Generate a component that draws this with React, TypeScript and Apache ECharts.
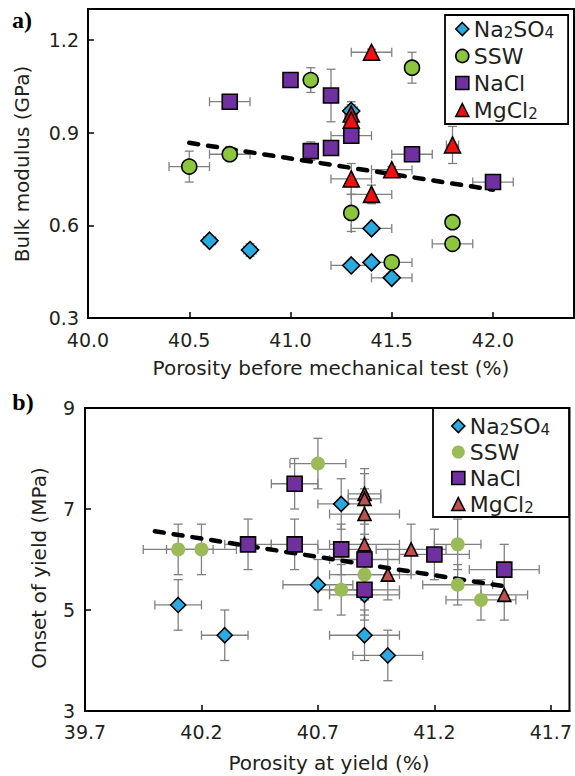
import React, { useEffect, useRef } from 'react';
import * as echarts from 'echarts';

// ---------- Panel a: bulk modulus vs porosity before mechanical test ----------
const aNa2SO4X = [40.6, 40.8, 41.3, 41.4, 41.4, 41.5, 41.3];
const aNa2SO4Y = [0.55, 0.52, 0.47, 0.48, 0.59, 0.43, 0.97];
const aNa2SO4XErr = [0.03, 0.03, 0.1, 0.02, 0.1, 0.1, 0.03];
const aNa2SO4YErr = [0.01, 0.02, 0.01, 0.01, 0.01, 0.01, 0.03];

const aSSWX = [40.5, 40.7, 41.1, 41.6, 41.3, 41.5, 41.8, 41.8];
const aSSWY = [0.79, 0.83, 1.07, 1.11, 0.64, 0.48, 0.61, 0.54];
const aSSWXErr = [0.1, 0.1, 0.03, 0.03, 0.03, 0.1, 0.03, 0.1];
const aSSWYErr = [0.05, 0.01, 0.04, 0.05, 0.06, 0.01, 0.01, 0.02];

const aNaClX = [40.7, 41.0, 41.2, 41.1, 41.2, 41.3, 41.6, 42.0];
const aNaClY = [1.0, 1.07, 1.02, 0.84, 0.85, 0.89, 0.83, 0.74];
const aNaClXErr = [0.1, 0.03, 0.02, 0.03, 0.03, 0.1, 0.1, 0.1];
const aNaClYErr = [0.01, 0.01, 0.085, 0.03, 0.01, 0.02, 0.01, 0.02];

const aMgCl2X = [41.4, 41.3, 41.3, 41.8, 41.5, 41.3, 41.4];
const aMgCl2Y = [1.16, 0.96, 0.94, 0.86, 0.78, 0.75, 0.7];
const aMgCl2XErr = [0.1, 0.03, 0.03, 0.03, 0.1, 0.1, 0.1];
const aMgCl2YErr = [0.01, 0.03, 0.03, 0.06, 0.01, 0.05, 0.03];

const aTrendX = [40.5, 42.0];
const aTrendY = [0.867, 0.715];

const aXTicks = [40.0, 40.5, 41.0, 41.5, 42.0];
const aXMax = 42.4;
const aYTicks = [0.3, 0.6, 0.9, 1.2];
const aYMax = 1.3;

// ---------- Panel b: onset of yield vs porosity at yield ----------
const bNa2SO4X = [40.1, 40.3, 40.7, 40.8, 40.9, 40.9, 41.0];
const bNa2SO4Y = [5.1, 4.5, 5.5, 7.1, 5.3, 4.5, 4.1];
const bNa2SO4XErr = [0.1, 0.1, 0.15, 0.1, 0.15, 0.15, 0.15];
const bNa2SO4YErr = [0.5, 0.5, 0.5, 0.5, 0.5, 0.5, 0.5];

const bSSWX = [40.1, 40.2, 40.7, 40.8, 40.9, 41.3, 41.3, 41.4];
const bSSWY = [6.2, 6.2, 7.9, 5.4, 5.7, 6.3, 5.5, 5.2];
const bSSWXErr = [0.15, 0.15, 0.12, 0.1, 0.15, 0.1, 0.15, 0.15];
const bSSWYErr = [0.5, 0.5, 0.5, 0.5, 0.5, 0.5, 0.4, 0.4];

const bNaClX = [40.4, 40.6, 40.6, 40.8, 40.9, 40.9, 41.2, 41.5];
const bNaClY = [6.3, 7.5, 6.3, 6.2, 6.0, 5.4, 6.1, 5.8];
const bNaClXErr = [0.1, 0.1, 0.1, 0.1, 0.15, 0.15, 0.15, 0.15];
const bNaClYErr = [0.5, 0.5, 0.5, 0.5, 0.5, 0.5, 0.5, 0.5];

const bMgCl2X = [40.9, 40.9, 40.9, 40.9, 41.0, 41.1, 41.5];
const bMgCl2Y = [7.3, 7.2, 6.9, 6.3, 5.7, 6.2, 5.3];
const bMgCl2XErr = [0.07, 0.07, 0.15, 0.15, 0.1, 0.15, 0.1];
const bMgCl2YErr = [0.5, 0.5, 0.5, 0.5, 0.5, 0.5, 0.5];

const bTrendX = [40.0, 41.5];
const bTrendY = [6.56, 5.47];

const bXTicks = [39.7, 40.2, 40.7, 41.2, 41.7];
const bXMax = 41.78;
const bYTicks = [3, 5, 7, 9];
const bYMax = 9;

// ---------- labels ----------
const speciesKeys = ['Na2SO4', 'SSW', 'NaCl', 'MgCl2'];
const speciesRich: Record<string, string> = {
  Na2SO4: '{n|Na}{s|2}{n|SO}{s|4}',
  SSW: '{n|SSW}',
  NaCl: '{n|NaCl}',
  MgCl2: '{n|MgCl}{s|2}',
};
const aXTitle = 'Porosity before mechanical test (%)';
const aYTitle = 'Bulk modulus (GPa)';
const bXTitle = 'Porosity at yield (%)';
const bYTitle = 'Onset of yield (MPa)';

const FONT = "'DejaVu Sans', Verdana, sans-serif";
const TXT = '#231f20';
const ERR = '#808080';

type Sty = { symbol: string; size: number; color: string; border: number };
const aStyles: Record<string, Sty> = {
  Na2SO4: { symbol: 'diamond', size: 17, color: '#29abe2', border: 1.6 },
  SSW: { symbol: 'circle', size: 15, color: '#8cc63f', border: 1.6 },
  NaCl: { symbol: 'rect', size: 15, color: '#7030a0', border: 1.6 },
  MgCl2: { symbol: 'triangle', size: 16, color: '#f01010', border: 1.6 },
};
const bStyles: Record<string, Sty> = {
  Na2SO4: { symbol: 'diamond', size: 15, color: '#29abe2', border: 1.6 },
  SSW: { symbol: 'circle', size: 14, color: '#9bbb59', border: 0 },
  NaCl: { symbol: 'rect', size: 15, color: '#7030a0', border: 1.6 },
  MgCl2: { symbol: 'triangle', size: 13, color: '#c0504d', border: 1.6 },
};

const aData: Record<string, number[][]> = {
  Na2SO4: [aNa2SO4X, aNa2SO4Y, aNa2SO4XErr, aNa2SO4YErr],
  SSW: [aSSWX, aSSWY, aSSWXErr, aSSWYErr],
  NaCl: [aNaClX, aNaClY, aNaClXErr, aNaClYErr],
  MgCl2: [aMgCl2X, aMgCl2Y, aMgCl2XErr, aMgCl2YErr],
};
const bData: Record<string, number[][]> = {
  Na2SO4: [bNa2SO4X, bNa2SO4Y, bNa2SO4XErr, bNa2SO4YErr],
  SSW: [bSSWX, bSSWY, bSSWXErr, bSSWYErr],
  NaCl: [bNaClX, bNaClY, bNaClXErr, bNaClYErr],
  MgCl2: [bMgCl2X, bMgCl2Y, bMgCl2XErr, bMgCl2YErr],
};

function errorBars(name: string, gi: number, d: number[][]) {
  const [xs, ys, xe, ye] = d;
  return {
    type: 'custom',
    name,
    xAxisIndex: gi,
    yAxisIndex: gi,
    silent: true,
    z: 2,
    encode: { x: 0, y: 1 },
    data: xs.map((x, i) => [x, ys[i], xe[i], ye[i]]),
    renderItem: (_p: any, api: any) => {
      const x = api.value(0);
      const y = api.value(1);
      const ex = api.value(2);
      const ey = api.value(3);
      const l = api.coord([x - ex, y]);
      const r = api.coord([x + ex, y]);
      const t = api.coord([x, y + ey]);
      const b = api.coord([x, y - ey]);
      const c = 4.5;
      const style = { stroke: ERR, lineWidth: 1.3 };
      const ln = (x1: number, y1: number, x2: number, y2: number) => ({
        type: 'line',
        shape: { x1, y1, x2, y2 },
        style,
      });
      return {
        type: 'group',
        children: [
          ln(l[0], l[1], r[0], r[1]),
          ln(l[0], l[1] - c, l[0], l[1] + c),
          ln(r[0], r[1] - c, r[0], r[1] + c),
          ln(t[0], t[1], b[0], b[1]),
          ln(t[0] - c, t[1], t[0] + c, t[1]),
          ln(b[0] - c, b[1], b[0] + c, b[1]),
        ],
      };
    },
  };
}

function scatter(name: string, gi: number, d: number[][], s: Sty) {
  const [xs, ys] = d;
  return {
    type: 'scatter',
    name,
    xAxisIndex: gi,
    yAxisIndex: gi,
    z: 4,
    symbol: s.symbol,
    symbolSize: s.size,
    itemStyle: {
      color: s.color,
      borderColor: '#000',
      borderWidth: s.border,
      opacity: 1,
    },
    data: xs.map((x, i) => [x, ys[i]]),
  };
}

function trend(gi: number, xs: number[], ys: number[]) {
  return {
    type: 'line',
    name: 'trend' + gi,
    xAxisIndex: gi,
    yAxisIndex: gi,
    z: 3,
    symbol: 'none',
    silent: true,
    lineStyle: { color: '#000', width: 4.5, type: [9, 10], cap: 'round' },
    data: xs.map((x, i) => [x, ys[i]]),
  };
}

function xAxis(gi: number, ticks: number[], max: number, margin: number) {
  return {
    type: 'value',
    gridIndex: gi,
    min: ticks[0],
    max,
    interval: ticks[1] - ticks[0],
    axisLine: { show: true, onZero: false, lineStyle: { color: '#000', width: 2 } },
    axisTick: { show: true, inside: true, length: 6, lineStyle: { color: '#000', width: 1.5 } },
    splitLine: { show: false },
    axisLabel: {
      showMaxLabel: false,
      fontSize: 19,
      fontFamily: FONT,
      color: TXT,
      margin,
      formatter: (v: number) => v.toFixed(1),
    },
  };
}

function yAxis(gi: number, ticks: number[], max: number, margin: number, dec: number) {
  return {
    type: 'value',
    gridIndex: gi,
    min: ticks[0],
    max,
    interval: ticks[1] - ticks[0],
    axisLine: { show: true, onZero: false, lineStyle: { color: '#000', width: 2 } },
    axisTick: { show: true, inside: true, length: 6, lineStyle: { color: '#000', width: 1.5 } },
    splitLine: { show: false },
    axisLabel: {
      showMaxLabel: max === ticks[ticks.length - 1],
      fontSize: 19,
      fontFamily: FONT,
      color: TXT,
      margin,
      formatter: (v: number) => v.toFixed(dec),
    },
  };
}

const rich = {
  n: { fontSize: 22, lineHeight: 22, fontFamily: FONT, color: TXT },
  s: { fontSize: 15, lineHeight: 15, fontFamily: FONT, color: TXT, verticalAlign: 'bottom' },
};

function legend(prefix: string, left: number, top: number, gap: number, padding: number[], styles: Record<string, Sty>) {
  return {
    orient: 'vertical',
    left,
    top,
    itemWidth: 13,
    itemHeight: 13,
    itemGap: gap,
    padding,
    borderColor: '#000',
    borderWidth: 1.8,
    selectedMode: false,
    data: speciesKeys.map((k) => ({
      name: prefix + k,
      icon: styles[k].symbol,
      itemStyle: { color: styles[k].color, borderColor: '#000', borderWidth: styles[k].border },
    })),
    formatter: (name: string) => speciesRich[name.slice(prefix.length)],
    textStyle: { fontFamily: FONT, fontSize: 22, color: TXT, rich },
  };
}

function text(x: number, y: number, t: string, size: number, rot = 0, extra: any = {}) {
  return {
    type: 'text',
    x,
    y,
    rotation: rot,
    silent: true,
    style: {
      text: t,
      fontSize: size,
      fontFamily: FONT,
      fill: TXT,
      align: 'center',
      verticalAlign: 'middle',
      textAlign: 'center',
      textVerticalAlign: 'middle',
      ...extra,
    },
  };
}

export default function App() {
  const ref = useRef<HTMLDivElement>(null);
  useEffect(() => {
    if (!ref.current) return;
    const chart = echarts.init(ref.current, undefined, { renderer: 'svg' });
    const series: any[] = [];
    speciesKeys.forEach((k) => series.push(errorBars('ea-' + k, 0, aData[k])));
    speciesKeys.forEach((k) => series.push(errorBars('eb-' + k, 1, bData[k])));
    series.push(trend(0, aTrendX, aTrendY));
    series.push(trend(1, bTrendX, bTrendY));
    speciesKeys.forEach((k) => series.push(scatter('a-' + k, 0, aData[k], aStyles[k])));
    speciesKeys.forEach((k) => series.push(scatter('b-' + k, 1, bData[k], bStyles[k])));

    chart.setOption({
      animation: false,
      backgroundColor: '#fff',
      grid: [
        { left: 88, top: 9, width: 486, height: 309, show: true, borderColor: '#000', borderWidth: 2, backgroundColor: 'transparent' },
        { left: 85, top: 408, width: 488, height: 303, show: true, borderColor: '#000', borderWidth: 2, backgroundColor: 'transparent' },
      ],
      xAxis: [xAxis(0, aXTicks, aXMax, 12), xAxis(1, bXTicks, bXMax, 11)],
      yAxis: [yAxis(0, aYTicks, aYMax, 9, 1), yAxis(1, bYTicks, bYMax, 10, 0)],
      legend: [
        legend('a-', 445, 15, 5, [3, 14, 3, 10], aStyles),
        legend('b-', 433, 408, 4, [7, 19, 2, 18], bStyles),
      ],
      graphic: [
        text(22, 20, 'a)', 24, 0, { fontFamily: "'Liberation Serif', serif", fontWeight: 'bold', fill: '#000' }),
        text(23, 402, 'b)', 24, 0, { fontFamily: "'Liberation Serif', serif", fontWeight: 'bold', fill: '#000' }),
        text(21.5, 164, aYTitle, 20, Math.PI / 2),
        text(39, 568, bYTitle, 20, Math.PI / 2),
        text(331, 368, aXTitle, 20),
        text(329, 763, bXTitle, 20),
      ],
      series,
    });
    return () => chart.dispose();
  }, []);
  return <div ref={ref} style={{ position: 'absolute', left: 0, top: 0, width: 575, height: 776 }} />;
}
